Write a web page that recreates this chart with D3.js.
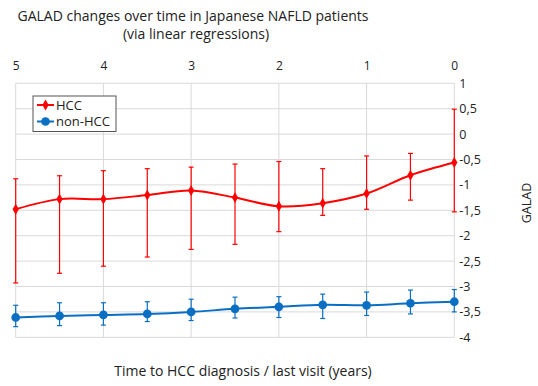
<!DOCTYPE html>
<html><head><meta charset="utf-8">
<script src="https://cdn.jsdelivr.net/npm/d3@7"></script>
<style>body{margin:0;background:#fff}svg{display:block}text{font-family:"Open Sans",sans-serif;fill:#222}</style>
</head><body><svg id="c" width="538" height="386"></svg>
<script>
const years = [5,4.5,4,3.5,3,2.5,2,1.5,1,0.5,0];
const hccMean = [-1.48,-1.28,-1.28,-1.20,-1.11,-1.25,-1.42,-1.36,-1.17,-0.81,-0.56];
const hccHigh = [-0.88,-0.82,-0.72,-0.68,-0.65,-0.59,-0.54,-0.68,-0.43,-0.38,0.49];
const hccLow  = [-2.93,-2.74,-2.60,-2.42,-2.27,-2.17,-1.92,-1.60,-1.48,-1.30,-1.53];
const nonMean = [-3.61,-3.58,-3.56,-3.54,-3.50,-3.44,-3.40,-3.36,-3.37,-3.33,-3.30];
const nonHigh = [-3.37,-3.32,-3.32,-3.30,-3.25,-3.21,-3.20,-3.15,-3.11,-3.07,-3.06];
const nonLow  = [-3.79,-3.77,-3.76,-3.69,-3.67,-3.62,-3.61,-3.63,-3.57,-3.54,-3.50];
const xTicks = [5,4,3,2,1,0];
const yTicks = [1,0.5,0,-0.5,-1,-1.5,-2,-2.5,-3,-3.5,-4];
const seriesNames = ["HCC","non-HCC"];
const colors = ["#ff0000","#0a6fc2"];

const svg = d3.select("#c");
const x = d3.scaleLinear().domain([5,0]).range([15.7,454.3]);
const y = d3.scaleLinear().domain([-4,1]).range([337.3,83.3]);

// gridlines
svg.append("g").selectAll("line").data(yTicks).join("line")
  .attr("x1",x(5)).attr("x2",x(0)).attr("y1",d=>y(d)).attr("y2",d=>y(d))
  .attr("stroke","#d9d9d9").attr("stroke-width",1);
svg.append("g").selectAll("line").data(xTicks).join("line")
  .attr("y1",y(1)).attr("y2",y(-4)).attr("x1",d=>x(d)).attr("x2",d=>x(d))
  .attr("stroke","#d9d9d9").attr("stroke-width",1);

// axes
const xAxis = svg.append("g").attr("transform",`translate(0,${y(1)})`)
  .call(d3.axisTop(x).tickValues(xTicks).tickSize(0).tickPadding(13).tickFormat(d3.format("d")));
xAxis.select(".domain").remove();
xAxis.selectAll("text").attr("font-size",12).style("font-family","Open Sans").attr("fill","#222");

const fmt = d => (d+"").replace(".",",");
const yAxis = svg.append("g").attr("transform",`translate(${x(0)},0)`)
  .call(d3.axisRight(y).tickValues(yTicks).tickSize(0).tickPadding(5).tickFormat(fmt));
yAxis.select(".domain").remove();
yAxis.selectAll("text").attr("font-size",12.5).style("font-family","Open Sans").attr("fill","#222").attr("text-anchor","start");

// titles
svg.append("text").attr("x",193).attr("y",21).attr("text-anchor","middle").attr("font-size",14).text("GALAD changes over time in Japanese NAFLD patients");
svg.append("text").attr("x",196).attr("y",39).attr("text-anchor","middle").attr("font-size",14).text("(via linear regressions)");
svg.append("text").attr("x",243).attr("y",376).attr("text-anchor","middle").attr("font-size",14).text("Time to HCC diagnosis / last visit (years)");
svg.append("text").attr("transform","translate(531,203) rotate(-90)").attr("text-anchor","middle").attr("font-size",12.5).text("GALAD");

const series = [
  {mean:hccMean,hi:hccHigh,lo:hccLow,color:colors[0],marker:"diamond"},
  {mean:nonMean,hi:nonHigh,lo:nonLow,color:colors[1],marker:"circle"}
];
const line = d3.line().x(d=>x(d[0])).y(d=>y(d[1])).curve(d3.curveCatmullRom.alpha(0.5));
series.forEach(s=>{
  const g = svg.append("g");
  const pts = years.map((yr,i)=>({yr,m:s.mean[i],hi:s.hi[i],lo:s.lo[i]}));
  g.selectAll("line.eb").data(pts).join("line").attr("class","eb")
    .attr("x1",d=>x(d.yr)).attr("x2",d=>x(d.yr)).attr("y1",d=>y(d.hi)).attr("y2",d=>y(d.lo))
    .attr("stroke",s.color).attr("stroke-width",1.2);
  ["hi","lo"].forEach(k=>{
    g.selectAll("line.cap"+k).data(pts).join("line").attr("class","cap"+k)
      .attr("x1",d=>x(d.yr)-2.5).attr("x2",d=>x(d.yr)+2.5).attr("y1",d=>y(d[k])).attr("y2",d=>y(d[k]))
      .attr("stroke",s.color).attr("stroke-width",1.2);
  });
  g.append("path").datum(years.map((yr,i)=>[yr,s.mean[i]])).attr("d",line)
    .attr("fill","none").attr("stroke",s.color).attr("stroke-width",2);
  const sym = s.marker==="diamond" ? d3.symbol(d3.symbolDiamond,34) : d3.symbol(d3.symbolCircle,60);
  g.selectAll("path.mk").data(pts).join("path").attr("class","mk")
    .attr("transform",d=>`translate(${x(d.yr)},${y(d.m)})`).attr("d",sym).attr("fill",s.color);
});

// legend
const lg = svg.append("g");
lg.append("rect").attr("x",33).attr("y",96).attr("width",83).attr("height",35.5)
  .attr("fill","#fff").attr("stroke","#555").attr("stroke-width",1);
seriesNames.forEach((n,i)=>{
  const cy = 105 + i*16.5;
  lg.append("line").attr("x1",37).attr("x2",54).attr("y1",cy).attr("y2",cy).attr("stroke",colors[i]).attr("stroke-width",2);
  lg.append("path").attr("transform",`translate(45.5,${cy})`)
    .attr("d", i===0 ? d3.symbol(d3.symbolDiamond,34)() : d3.symbol(d3.symbolCircle,60)()).attr("fill",colors[i]);
  lg.append("text").attr("x",56).attr("y",cy+4.5).attr("font-size",13).text(n);
});
</script></body></html>
